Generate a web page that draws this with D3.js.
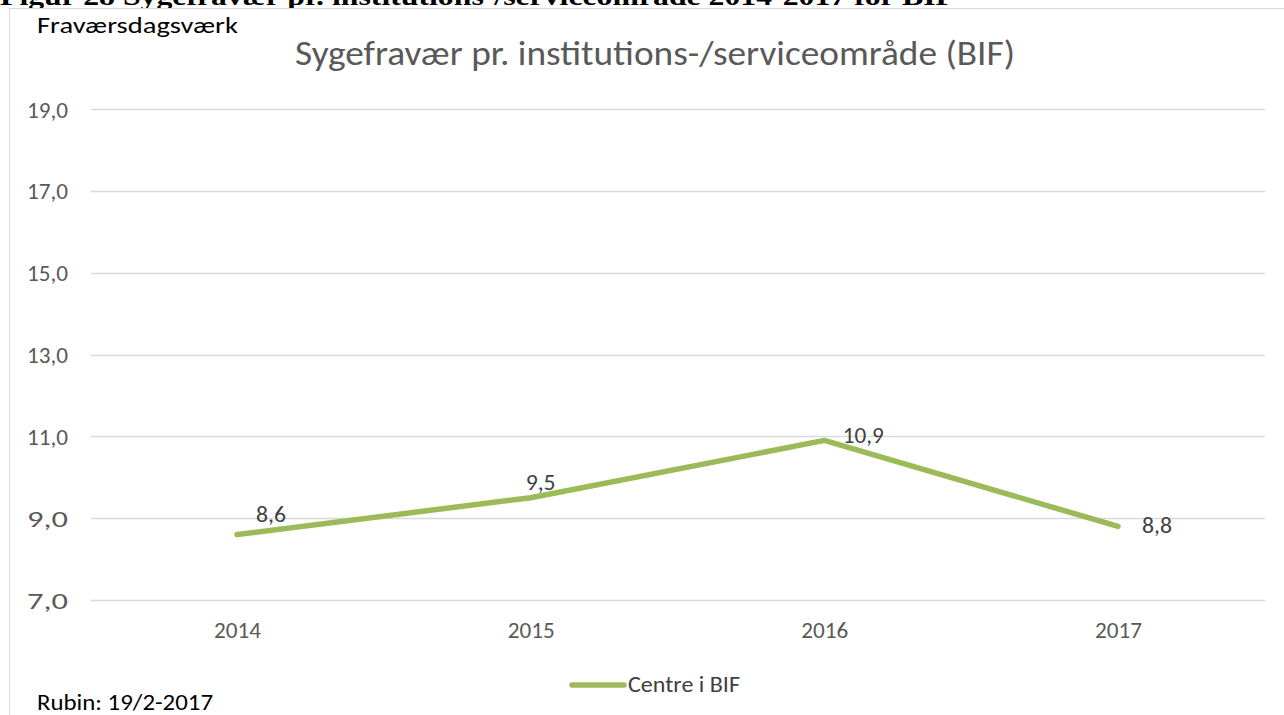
<!DOCTYPE html>
<html><head><meta charset="utf-8">
<script src="https://cdn.jsdelivr.net/npm/d3@7"></script>
<style>body{margin:0;background:#fff;}svg{display:block;}</style>
</head><body>
<svg id="c" width="1284" height="715"></svg>
<script>
const categories = ["2014","2015","2016","2017"];
const values = [8.6, 9.5, 10.9, 8.8];
const valueLabels = ["8,6","9,5","10,9","8,8"];
const yTicks = [7, 9, 11, 13, 15, 17, 19];
const seriesName = "Centre i BIF";
const chartTitle = "Sygefravær pr. institutions-/serviceområde (BIF)";
const yAxisTitle = "Fraværsdagsværk";
const footnote = "Rubin: 19/2-2017";
const heading = "Figur 28  Sygefravær pr. institutions-/serviceområde 2014-2017 for BIF";

const svg = d3.select("#c");
const font = "Calibri, Carlito, 'Open Sans', sans-serif";

// heading (cut off by chart frame, as in the reference)
svg.append("text").attr("x", 0).attr("y", 5)
  .attr("font-family", "'Liberation Serif', serif").attr("font-weight", "bold")
  .attr("font-size", 25).attr("fill", "#000")
  .attr("textLength", 955).attr("lengthAdjust", "spacingAndGlyphs")
  .text(heading);

// chart frame
svg.append("rect").attr("x", 9.5).attr("y", 8.5).attr("width", 1300).attr("height", 720)
  .attr("fill", "#fff").attr("stroke", "#d9d9d9").attr("stroke-width", 1);

const x = d3.scalePoint().domain(categories).range([237, 1118]);
const y = d3.scaleLinear().domain([7, 19]).range([600, 109]);

// gridlines
svg.append("g").selectAll("line").data(yTicks).join("line")
  .attr("x1", 91).attr("x2", 1265)
  .attr("y1", d => Math.round(y(d)) + 0.5).attr("y2", d => Math.round(y(d)) + 0.5)
  .attr("stroke", "#d9d9d9").attr("stroke-width", 1.5);

// y axis labels
const yAxis = d3.axisLeft(y).tickValues(yTicks).tickSize(0).tickPadding(0)
  .tickFormat(d => d3.format(".1f")(d).replace(".", ","));
const ya = svg.append("g").attr("transform", "translate(68,0)").call(yAxis);
ya.select(".domain").remove();
ya.selectAll("text").attr("font-family", font).attr("font-size", 23).attr("fill", "#595959")
  .attr("dy", null).attr("y", 8)
  .attr("textLength", 41).attr("lengthAdjust", "spacingAndGlyphs");

// x axis labels
const xAxis = d3.axisBottom(x).tickSize(0).tickPadding(0);
const xa = svg.append("g").attr("transform", "translate(0,638)").call(xAxis);
xa.select(".domain").remove();
xa.selectAll("text").attr("font-family", font).attr("font-size", 23).attr("fill", "#595959")
  .attr("dy", null).attr("y", 0)
  .attr("textLength", 47).attr("lengthAdjust", "spacingAndGlyphs");

// line
const line = d3.line().x((d, i) => x(categories[i])).y(d => y(d));
svg.append("path").datum(values).attr("d", line)
  .attr("fill", "none").attr("stroke", "#9bbb59").attr("stroke-width", 5.5)
  .attr("stroke-linecap", "round").attr("stroke-linejoin", "round");

// data labels (offsets from each point)
const offs = [[34, -12.5], [10, -8], [39, 2.5], [39, 7]];
svg.append("g").selectAll("text").data(values).join("text")
  .attr("x", (d, i) => x(categories[i]) + offs[i][0])
  .attr("y", (d, i) => y(d) + offs[i][1])
  .attr("text-anchor", "middle")
  .attr("font-family", font).attr("font-size", 23).attr("fill", "#404040")
  .attr("textLength", (d, i) => valueLabels[i].length === 4 ? 41 : 30)
  .attr("lengthAdjust", "spacingAndGlyphs")
  .text((d, i) => valueLabels[i]);

// titles
svg.append("text").attr("x", 295).attr("y", 65)
  .attr("font-family", font).attr("font-size", 34).attr("fill", "#595959")
  .attr("textLength", 720).attr("lengthAdjust", "spacingAndGlyphs")
  .text(chartTitle);
svg.append("text").attr("x", 37).attr("y", 33)
  .attr("font-family", font).attr("font-size", 22).attr("fill", "#000")
  .attr("textLength", 201).attr("lengthAdjust", "spacingAndGlyphs")
  .text(yAxisTitle);

// legend
svg.append("line").attr("x1", 572).attr("x2", 624).attr("y1", 685).attr("y2", 685)
  .attr("stroke", "#9bbb59").attr("stroke-width", 5.5).attr("stroke-linecap", "round");
svg.append("text").attr("x", 628).attr("y", 692)
  .attr("font-family", font).attr("font-size", 22).attr("fill", "#404040")
  .attr("textLength", 112).attr("lengthAdjust", "spacingAndGlyphs")
  .text(seriesName);

// footnote
svg.append("text").attr("x", 37).attr("y", 710)
  .attr("font-family", font).attr("font-size", 22).attr("fill", "#000")
  .attr("textLength", 176).attr("lengthAdjust", "spacingAndGlyphs")
  .text(footnote);
</script>
</body></html>
